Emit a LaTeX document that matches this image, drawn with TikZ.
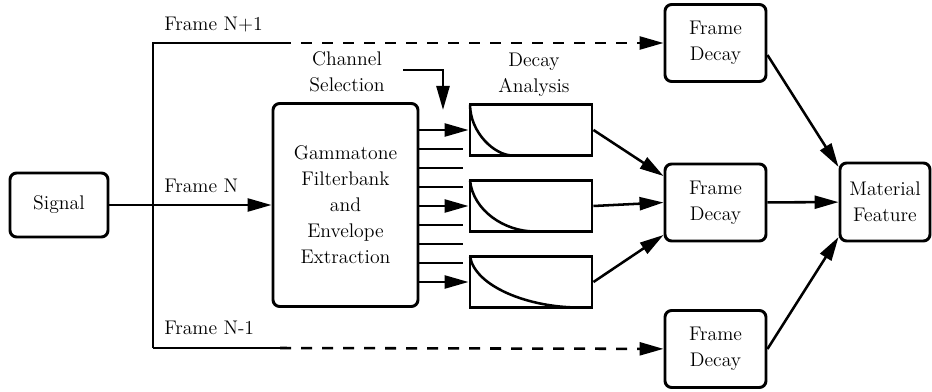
\documentclass[tikz,border=0pt]{standalone}
\usetikzlibrary{arrows.meta,calc}
\newcommand{\diagfont}{\rmfamily\fontsize{14.8}{19.5}\selectfont}
\tikzset{
  box/.style={draw, line width=2.2pt, rounded corners=5pt, align=center, font=\diagfont, inner sep=0pt},
  decaybox/.style={draw, line width=2.2pt, minimum width=91.5pt, minimum height=38.25pt, inner sep=0pt},
  lbl/.style={font=\diagfont, inner sep=0pt, align=center},
  arr/.style={-{Triangle[length=18pt,width=9.75pt]}},
}
\begin{document}
\begin{tikzpicture}[x=0.75pt,y=0.75pt,yscale=-1,xscale=1,line width=1.9pt]
\useasboundingbox (0,0) rectangle (932,392);
%Shape: Boxes
\node[box, minimum width=73.5pt, minimum height=48pt] (sig) at (59,205) {Signal};
\node[box, minimum width=108.75pt, minimum height=152.25pt] (gfb) at (345.5,205) {Gammatone\\Filterbank\\and\\Envelope\\Extraction};
\node[decaybox] (d1) at (531,130) {};
\node[decaybox] (d2) at (531,206) {};
\node[decaybox] (d3) at (531,282) {};
\node[box, minimum width=75.75pt, minimum height=57.75pt] (f1) at (715.5,43) {Frame\\Decay};
\node[box, minimum width=75.75pt, minimum height=57.75pt] (f2) at (715.5,202.5) {Frame\\Decay};
\node[box, minimum width=75.75pt, minimum height=57.75pt] (f3) at (715.5,349) {Frame\\Decay};
\node[box, minimum width=67.5pt, minimum height=58.5pt] (mat) at (885,202) {Material\\Feature};
%Decay curves
\draw ($(d1.north west)+(1.5,1.5)$) .. controls +(0,28) and +(-18,0) .. ($(d1.south west)+(44,-1.5)$);
\draw ($(d2.north west)+(1.5,1.5)$) .. controls +(3,30) and +(-30,0) .. ($(d2.south west)+(66,-1.5)$);
\draw ($(d3.north west)+(1.5,1.5)$) .. controls +(5,30) and +(-50,0) .. ($(d3.south west)+(110,-1.5)$);
%Frame split
\coordinate (split) at (153,205);
\coordinate (up) at (153,43);
\coordinate (dn) at (153,348);
\coordinate (upd) at (280,43);
\coordinate (dnd) at (280,348);
\draw[arr] (sig) -- (gfb);
\draw (dn) -- (up) -- (upd);
\draw (dn) -- (dnd);
\draw[arr, dash pattern={on 8.25pt off 7.5pt}] (upd) -- (f1);
\draw[arr, dash pattern={on 8.25pt off 7.5pt}] (dnd) -- (f3);
%Channels
\foreach \i in {0,...,8}
  \coordinate (ch\i) at (418,{130+19*\i});
\foreach \i in {1,2,3,5,6,7}
  \draw (ch\i) -- ++(45,0);
\draw[arr] (ch0) -- (d1.west);
\draw[arr] (ch4) -- (d2.west);
\draw[arr] (ch8) -- (d3.west);
%Channel selection
\coordinate (sel) at (403,70);
\coordinate (seltip) at (443,110);
\draw[arr] (sel) -| (seltip);
%Decay to frame decay
\draw[arr] (d1.east) -- (f2.153);
\draw[arr] (d2.east) -- (f2.west);
\draw[arr] (d3.east) -- (f2.212);
\draw[arr] (f1.-13) -- (mat.143);
\draw[arr] (f2) -- (mat);
\draw[arr] (f3.east) -- (mat.217);
% Text Node
\node[lbl, anchor=base west] (lup) at (163,31) {Frame N+1};
\node[lbl, anchor=base west] (lmid) at (163,193) {Frame N};
\node[lbl, anchor=base west] (ldn) at (163,334) {Frame N-1};
\node[lbl, anchor=south] (lsel) at (347,93) {Channel\\Selection};
\node[lbl, anchor=south] (ldec) at (534,97.5) {Decay\\Analysis};
\end{tikzpicture}
\end{document}
